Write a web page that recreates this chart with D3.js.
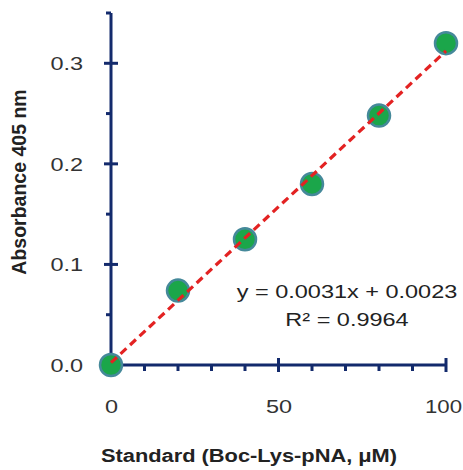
<!DOCTYPE html>
<html lang="en">
<head>
<meta charset="UTF-8">
<title>Standard curve</title>
<style>
  body { margin: 0; background: #fff; }
  svg { display: block; font-family: "Liberation Sans", Arial, sans-serif; }
  .tick text { fill: #333; font-size: 18.5px; }
  .domain { display: none; }
</style>
</head>
<body>
<script src="https://d3js.org/d3.v7.min.js"></script>
<script>
const standards = [0, 20, 40, 60, 80, 100];
const absorbance = [0.0, 0.074, 0.125, 0.180, 0.248, 0.320];
const slope = 0.0031, intercept = 0.0023;
const xMajor = [0, 50, 100];
const xMinor = [10, 20, 30, 40, 60, 70, 80, 90];
const yMajor = [0, 0.1, 0.2, 0.3];
const yMinor = [0.05, 0.15, 0.25, 0.35];

const w = 463, h = 470;
const axisColor = "#132a6c";
const sx = 1.27; // labels in the original are drawn wide

const x = d3.scaleLinear().domain([0, 100]).range([111, 446]);
const y = d3.scaleLinear().domain([0, 0.35]).range([365, 13]);

const svg = d3.select("body").append("svg").attr("width", w).attr("height", h);

// tick labels
svg.append("g").attr("transform", "translate(" + x(0) + ",0)")
  .call(d3.axisLeft(y).tickValues(yMajor).tickFormat(d3.format(".1f")).tickSize(0))
  .selectAll("text")
  .attr("x", -28 / sx).attr("dy", "0.35em")
  .attr("transform", "scale(" + sx + ",1)");
svg.append("g").attr("transform", "translate(0," + y(0) + ")")
  .call(d3.axisBottom(x).tickValues(xMajor).tickSize(0).tickPadding(35))
  .selectAll("text")
  // last label sits right at the page edge, keep it inside
  .attr("transform", d => d === 100 ? "translate(-3,0) scale(1.2,1)" : "scale(" + sx + ",1)");

// axis lines
svg.append("line").attr("x1", x(0)).attr("x2", x(0)).attr("y1", y(0)).attr("y2", y(0.35))
  .attr("stroke", axisColor).attr("stroke-width", 3);
svg.append("line").attr("x1", x(0)).attr("x2", x(100)).attr("y1", y(0)).attr("y2", y(0))
  .attr("stroke", axisColor).attr("stroke-width", 3);

// y ticks
svg.selectAll(".ymaj").data(yMajor).enter().append("line")
  .attr("x1", x(0) - 7).attr("x2", x(0) + 7)
  .attr("y1", d => y(d)).attr("y2", d => y(d))
  .attr("stroke", axisColor).attr("stroke-width", 3);
svg.selectAll(".ymin").data(yMinor).enter().append("line")
  .attr("x1", x(0) - 5).attr("x2", x(0))
  .attr("y1", d => y(d)).attr("y2", d => y(d))
  .attr("stroke", axisColor).attr("stroke-width", 3);

// x ticks
svg.selectAll(".xmaj").data(xMajor).enter().append("line")
  .attr("x1", d => x(d)).attr("x2", d => x(d))
  .attr("y1", y(0) - 7).attr("y2", y(0) + 7)
  .attr("stroke", axisColor).attr("stroke-width", 3);
svg.selectAll(".xmin").data(xMinor).enter().append("line")
  .attr("x1", d => x(d)).attr("x2", d => x(d))
  .attr("y1", y(0)).attr("y2", y(0) + 6)
  .attr("stroke", axisColor).attr("stroke-width", 3);

// points
svg.selectAll("circle").data(standards).enter().append("circle")
  .attr("cx", d => x(d))
  .attr("cy", (d, i) => y(absorbance[i]))
  .attr("r", 11)
  .attr("fill", "#1ba64a")
  .attr("stroke", "#45899a")
  .attr("stroke-width", 2.5);

// trendline
svg.append("line")
  .attr("x1", x(0)).attr("y1", y(intercept))
  .attr("x2", x(100)).attr("y2", y(slope * 100 + intercept))
  .attr("stroke", "#e32222").attr("stroke-width", 3.2)
  .attr("stroke-dasharray", "8,5");

// equation
const eq = svg.append("text").attr("text-anchor", "middle")
  .attr("font-size", 18.5).attr("fill", "#222")
  .attr("transform", "translate(347,0) scale(" + sx + ",1)");
eq.append("tspan").attr("x", 0).attr("y", 298).text("y = 0.0031x + 0.0023");
eq.append("tspan").attr("x", 0).attr("y", 326).text("R² = 0.9964");

// axis titles
svg.append("text")
  .attr("transform", "translate(26,182) rotate(-90)")
  .attr("text-anchor", "middle")
  .attr("font-size", 19.5).attr("font-weight", "bold").attr("fill", "#222")
  .text("Absorbance 405 nm");
svg.append("text")
  .attr("transform", "translate(249,462) scale(1.18,1)")
  .attr("text-anchor", "middle")
  .attr("font-size", 18.5).attr("font-weight", "bold").attr("fill", "#222")
  .text("Standard (Boc-Lys-pNA, μM)");
</script>
</body>
</html>
